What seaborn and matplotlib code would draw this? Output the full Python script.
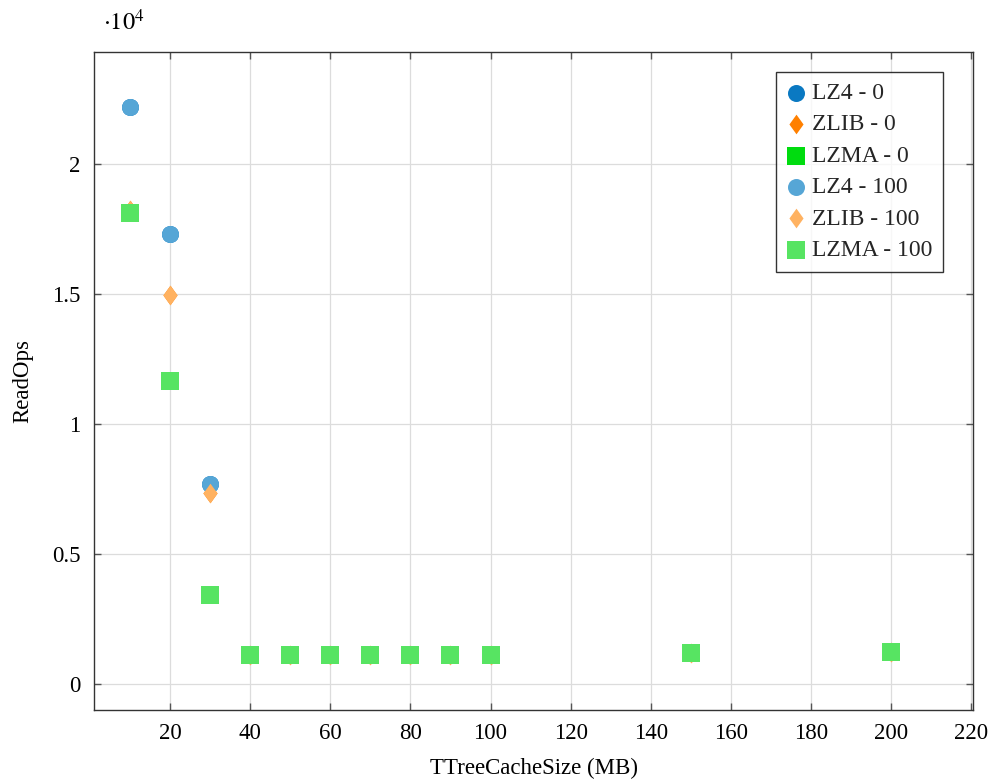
import matplotlib
matplotlib.use("Agg")
import matplotlib.pyplot as plt
from matplotlib.ticker import FuncFormatter
import seaborn as sns
import pandas as pd

# Cache sizes (MB) and measured read operations per compression setting
cache_mb = [10, 20, 30, 40, 50, 60, 70, 80, 90, 100, 150, 200]

lz4_0 = [22190, 17300, 7690, 1150, 1120, 1120, 1120, 1120, 1120, 1120, 1190, 1250]
zlib_0 = [18230, 14960, 7350, 1130, 1120, 1120, 1120, 1120, 1120, 1120, 1200, 1220]
lzma_0 = [18110, 11650, 3420, 1110, 1110, 1110, 1110, 1110, 1110, 1110, 1190, 1230]

lz4_100 = [22190, 17300, 7690, 1150, 1120, 1120, 1120, 1120, 1120, 1120, 1190, 1250]
zlib_100 = [18230, 14960, 7350, 1130, 1120, 1120, 1120, 1120, 1120, 1120, 1200, 1220]
lzma_100 = [18110, 11650, 3420, 1110, 1110, 1110, 1110, 1110, 1110, 1110, 1190, 1230]

labels = ["LZ4 - 0", "ZLIB - 0", "LZMA - 0", "LZ4 - 100", "ZLIB - 100", "LZMA - 100"]
series = [lz4_0, zlib_0, lzma_0, lz4_100, zlib_100, lzma_100]

diamond = [(0, 1), (0.72, 0), (0, -1), (-0.72, 0), (0, 1)]
styles = [
    dict(color="#0a79c2", marker="o", s=150),
    dict(color="#ff8000", marker=diamond, s=200),
    dict(color="#00dc0f", marker="s", s=150),
    dict(color="#56a6d6", marker="o", s=150),
    dict(color="#ffb261", marker=diamond, s=200),
    dict(color="#57e462", marker="s", s=150),
]

FS = 16.5

sns.set_theme(style="whitegrid")
plt.rcParams["font.family"] = ["Liberation Serif", "DejaVu Serif"]
plt.rcParams["mathtext.fontset"] = "stix"

fig = plt.figure(figsize=(9.95, 7.8), dpi=100)
ax = fig.add_axes([0.0945, 0.0897, 0.8835, 0.8436])

for lab, vals, st in zip(labels, series, styles):
    df = pd.DataFrame({"x": cache_mb, "y": vals})
    sns.scatterplot(data=df, x="x", y="y", ax=ax, label=lab,
                    color=st["color"], marker=st["marker"], s=st["s"],
                    linewidth=0, zorder=3)

ax.set_xlim(1, 220.5)
ax.set_ylim(-1000, 24300)
ax.set_xticks(range(20, 221, 20))
ax.set_yticks([0, 5000, 10000, 15000, 20000])
ax.yaxis.set_major_formatter(FuncFormatter(lambda v, p: f"{v/1e4:g}"))

ax.grid(True, color="#dcdcdc", linewidth=0.9)
ax.set_facecolor("white")
for sp in ax.spines.values():
    sp.set_color("#333333")
    sp.set_linewidth(1.0)

ax.tick_params(axis="both", which="major", direction="in", length=5, width=1,
               color="#555555", labelsize=FS, top=True, right=True,
               bottom=True, left=True, labelcolor="black")
ax.tick_params(axis="x", pad=9)
ax.tick_params(axis="y", pad=10)

ax.set_xlabel("TTreeCacheSize (MB)", fontsize=FS, color="black", labelpad=10)
ax.set_ylabel("ReadOps", fontsize=FS, color="black", labelpad=13)

ax.text(0.01, 1.025, r"$\cdot 10^{4}$", transform=ax.transAxes, fontsize=17.5,
        ha="left", va="bottom", color="black")

leg = ax.legend(loc="upper right", bbox_to_anchor=(0.966, 0.97), fontsize=17,
                frameon=True, fancybox=False, edgecolor="black",
                borderpad=0.45, handletextpad=0.3, labelspacing=0.42,
                markerfirst=True, handlelength=0.8, borderaxespad=0.0)
leg.get_frame().set_linewidth(1.0)
for t in leg.get_texts():
    t.set_ha("center")

fig.savefig("out.png", dpi=100, facecolor="white")
